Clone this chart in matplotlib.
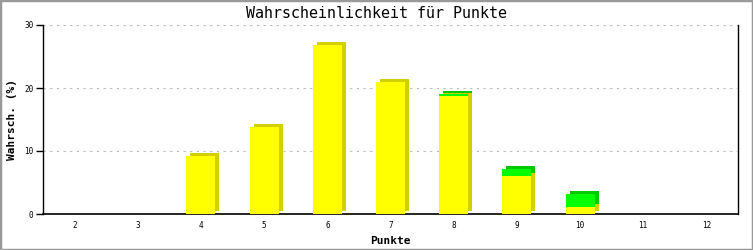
import numpy as np
import matplotlib
matplotlib.use("Agg")
import matplotlib.pyplot as plt
import matplotlib.transforms as mtransforms
from matplotlib.patches import Rectangle

# Data
punkte = ["2", "3", "4", "5", "6", "7", "8", "9", "10", "11", "12"]
gelb = [0, 0, 9.2, 13.8, 26.8, 21.0, 18.7, 6.0, 1.1, 0, 0]
gruen = [0, 0, 0, 0, 0, 0, 0.35, 1.1, 2.1, 0, 0]
y_ticks = [0, 10, 20, 30]

mono = "DejaVu Sans Mono"
plt.rcParams['font.family'] = [mono]

fig = plt.figure(figsize=(7.53, 2.5), dpi=100)
ax = fig.add_axes([43 / 753, 1 - 214 / 250, (738 - 43) / 753, (214 - 25) / 250])

x = np.arange(len(punkte))
gelb = np.array(gelb)
gruen = np.array(gruen)
width = 0.46

# offset for the 3D side/top faces (4 px right, 3 px up)
shade = mtransforms.offset_copy(ax.transData, fig=fig, x=4, y=3, units='dots')

ax.bar(x, gelb, width, color='#d2d000', transform=shade, zorder=2, linewidth=0)
ax.bar(x, gruen, width, bottom=gelb, color='#00c800', transform=shade, zorder=2, linewidth=0)
ax.bar(x, gelb, width, color='#ffff00', zorder=3, linewidth=0)
ax.bar(x, gruen, width, bottom=gelb, color='#00ff00', zorder=3, linewidth=0)

ax.set_xlim(-0.5, len(punkte) - 0.5)
ax.set_ylim(0, 30)
ax.set_xticks(x)
ax.set_xticklabels(punkte, fontsize=5.5)
ax.set_yticks(y_ticks)
ax.set_yticklabels([str(t) for t in y_ticks], fontsize=5.5)
ax.tick_params(axis='x', length=0, pad=5)
ax.tick_params(axis='y', length=5, width=1, pad=2, direction='out')

ax.yaxis.grid(True, color='#bbbbbb', linestyle=(0, (2, 4)), linewidth=0.8, zorder=0)
ax.set_axisbelow(True)
ax.spines['top'].set_visible(False)
ax.spines['left'].set_linewidth(1)
ax.spines['bottom'].set_linewidth(1.2)
ax.spines['right'].set_linewidth(1)

fig.text(0.5, 1 - 13 / 250, "Wahrscheinlichkeit für Punkte", fontsize=10.8,
         ha='center', va='center')
ax.set_xlabel("Punkte", fontsize=8, fontweight='bold', labelpad=4)
ax.set_ylabel("Wahrsch. (%)", fontsize=8, fontweight='bold')
ax.yaxis.set_label_coords(-(43 - 17) / 695, 0.5)

# grey frame around the whole image
fig.patches.append(Rectangle((0, 0), 1, 1, transform=fig.transFigure,
                             fill=False, edgecolor='#999999', linewidth=2.5))

fig.savefig("out.png", dpi=100)
